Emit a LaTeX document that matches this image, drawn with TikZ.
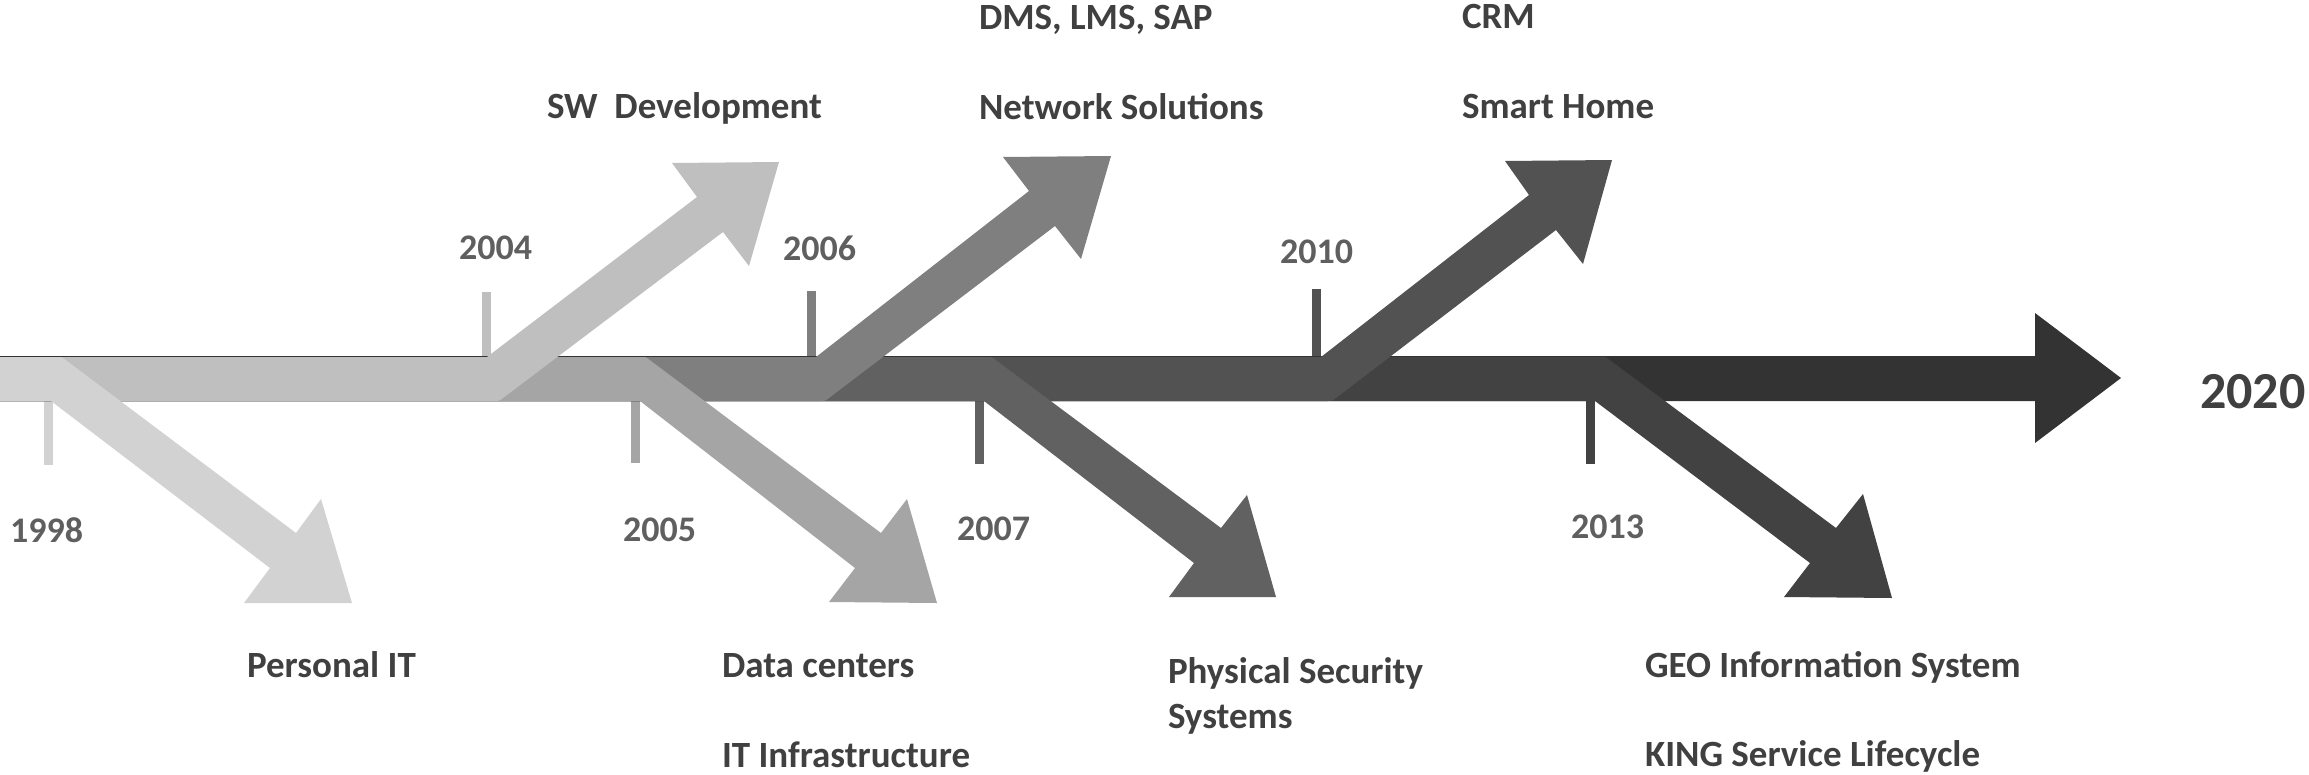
\documentclass[tikz,border=0pt]{standalone}
\usepackage{fontspec}
\setmainfont{Carlito}
\definecolor{cA}{HTML}{D2D2D2}
\definecolor{cB}{HTML}{BFBFBF}
\definecolor{cC}{HTML}{A5A5A5}
\definecolor{cD}{HTML}{7F7F7F}
\definecolor{cE}{HTML}{616161}
\definecolor{cF}{HTML}{525252}
\definecolor{cG}{HTML}{424242}
\definecolor{cH}{HTML}{333333}
\definecolor{yrc}{HTML}{5F5F5F}
\definecolor{txc}{HTML}{404040}
\tikzset{
  lbl/.style={anchor=base west, inner sep=0pt, outer sep=0pt, text=txc, font=\bfseries\fontsize{37}{44}\selectfont},
  yr/.style={lbl, text=yrc, font=\bfseries\fontsize{36}{43}\selectfont},
  bigyr/.style={lbl, text=txc, font=\bfseries\fontsize{52}{62}\selectfont},
  tickbar/.style={line width=9pt},
}
\begin{document}
\begin{tikzpicture}[x=1pt,y=-1pt]
\useasboundingbox (0,0) rectangle (2309,774);
% ticks
\draw[tickbar, draw=cA] (48,401) -- (48,465);
\draw[tickbar, draw=cB] (486,292) -- (486,357);
\draw[tickbar, draw=cC] (635,401) -- (635,463);
\draw[tickbar, draw=cD] (811,291) -- (811,357);
\draw[tickbar, draw=cE] (979,401) -- (979,464);
\draw[tickbar, draw=cF] (1316,289) -- (1316,357);
\draw[tickbar, draw=cG] (1590,401) -- (1590,464);
% main arrow
\fill[cH] (0,356) -- (2035,356) -- (2035,313) -- (2121,378) -- (2035,443) -- (2035,401) -- (0,401) -- cycle;
% 2013 down
\fill[cG] (0,357) -- (1602,357) .. controls (1606,357) .. (1609,359.5) -- (1836,528) -- (1863,494) -- (1892,598) -- (1784,597) -- (1810,563) -- (1595,401) -- (0,401) -- cycle;
% 2010 up
\fill[cF] (0,357) -- (1321,357) -- (1529,195) -- (1505,161) -- (1612,160) -- (1583,264) -- (1556,230) -- (1336,398) .. controls (1332,401) .. (1327,401) -- (0,401) -- cycle;
% 2007 down
\fill[cE] (0,357) -- (988,357) .. controls (992,357) .. (995,359.5) -- (1221,528) -- (1247,495) -- (1276,597) -- (1169,597) -- (1194,563) -- (984,401) -- (0,401) -- cycle;
% 2006 up
\fill[cD] (0,357) -- (816,357) -- (1029,191) -- (1003,157) -- (1111,156) -- (1081,259) -- (1055,226) -- (829,398) .. controls (825,401) .. (820,401) -- (0,401) -- cycle;
% 2005 down
\fill[cC] (0,357) -- (642,357) .. controls (646,357) .. (649,359.5) -- (881,533) -- (907,499) -- (937,603) -- (829,602) -- (855,568) -- (640,401) -- (0,401) -- cycle;
% 2004 up
\fill[cB] (0,357) -- (487,357) -- (697,197) -- (672,163) -- (779,162) -- (749,266) -- (723,232) -- (503,398) .. controls (499,401) .. (494,401) -- (0,401) -- cycle;
% 1998 down
\fill[cA] (0,357) -- (58,357) .. controls (62,357) .. (65,359.5) -- (296,533) -- (321,499) -- (352,603) -- (244,603) -- (270,568) -- (51,401) -- (0,401) -- cycle;
% years
\node[yr] (y1998) at (10,542) {1998};
\node[yr] (y2004) at (459,259) {2004};
\node[yr] (y2005) at (623,541) {2005};
\node[yr] (y2006) at (783,260) {2006};
\node[yr] (y2007) at (957,540) {2007};
\node[yr] (y2010) at (1280,263) {2010};
\node[yr] (y2013) at (1571,538) {2013};
\node[bigyr] (y2020) at (2200,408) {2020};
% labels
\node[lbl] (sw) at (547,118) {SW\ \ Development};
\node[lbl] (dms) at (979,29) {DMS, LMS, SAP};
\node[lbl] (net) at (979,119) {Network Solutions};
\node[lbl] (crm) at (1462,28) {CRM};
\node[lbl] (smart) at (1462,118) {Smart Home};
\node[lbl] (pers) at (247,677) {Personal IT};
\node[lbl] (data) at (722,677) {Data centers};
\node[lbl] (itinf) at (722,767) {IT Infrastructure};
\node[lbl] (phys) at (1168,683) {Physical Security};
\node[lbl] (sys) at (1168,728) {Systems};
\node[lbl] (geo) at (1645,677) {GEO Information System};
\node[lbl] (king) at (1645,766) {KING Service Lifecycle};
\end{tikzpicture}
\end{document}
